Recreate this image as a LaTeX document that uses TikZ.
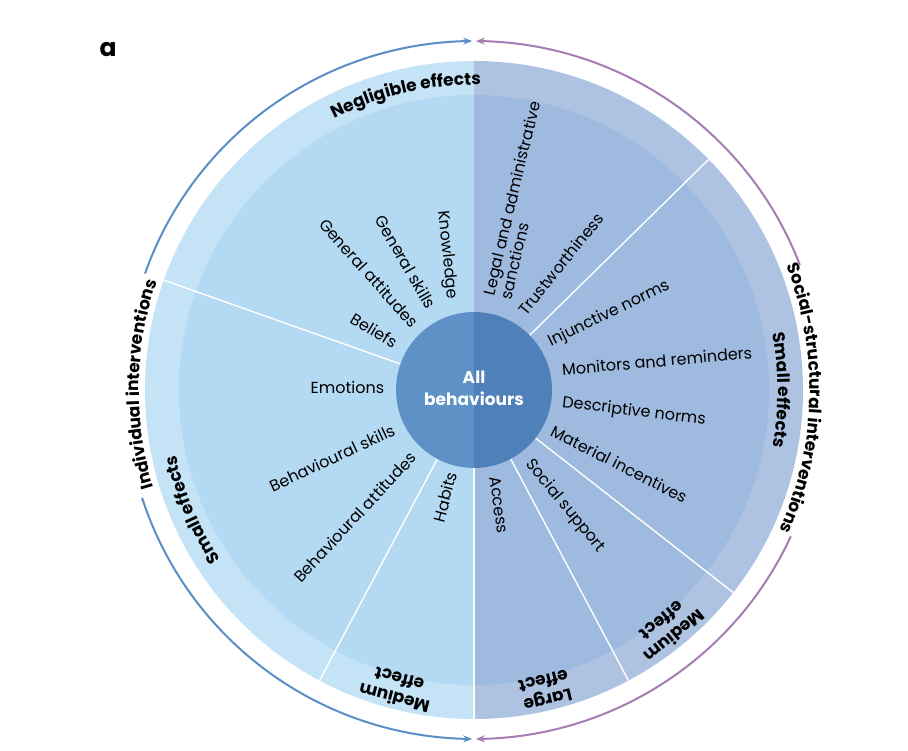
\documentclass[tikz,border=0pt]{standalone}
\usepackage{fontspec}
\setmainfont{Poppins}
\usetikzlibrary{decorations.text, arrows.meta, bending}
\definecolor{lbo}{HTML}{C5E3F6}
\definecolor{lbi}{HTML}{B4D9F2}
\definecolor{rbo}{HTML}{AEC3E2}
\definecolor{rbi}{HTML}{9EBADF}
\definecolor{cl}{HTML}{5E92C7}
\definecolor{cr}{HTML}{5080B9}
\definecolor{arrb}{HTML}{5A8EC5}
\definecolor{arrp}{HTML}{A57CB4}
\newcommand\itemfont{\fontsize{16}{18}\selectfont}
\newcommand\ringfont{\fontsize{17}{20}\selectfont\bfseries}
\tikzset{
  lbl/.style={font=\itemfont, inner sep=0pt},
  effl/.style={font=\fontsize{17}{20}\selectfont\bfseries, align=center, inner sep=0pt},
  sep/.style={white, line width=1.4pt},
  arcarrow/.style={line width=2pt, -{Stealth[length=9pt,width=7pt]}},
  ringtext/.style={decorate, decoration={text along path, text align=center, text={|\ringfont|#1}}}
}
\begin{document}
\begin{tikzpicture}[x=1pt,y=1pt]
\useasboundingbox (0,0) rectangle (908,750);
\node[font=\fontsize{25}{26}\selectfont\bfseries] (lbla) at (108,700) {a};
\begin{scope}[shift={(474,360)}]
  % halves
  \fill[lbo] (0,0) -- (90:329pt) arc[start angle=90, end angle=270, radius=329pt] -- cycle;
  \fill[lbi] (0,0) -- (90:295pt) arc[start angle=90, end angle=270, radius=295pt] -- cycle;
  \fill[rbo] (0,0) -- (-90:329pt) arc[start angle=-90, end angle=90, radius=329pt] -- cycle;
  \fill[rbi] (0,0) -- (-90:295pt) arc[start angle=-90, end angle=90, radius=295pt] -- cycle;
  % separators
  \foreach \a in {44.5,160.5,242,270,298,322} \draw[sep] (\a:70pt) -- (\a:329pt);
  % centre
  \fill[cl] (0,0) -- (90:78pt) arc[start angle=90, end angle=270, radius=78pt] -- cycle;
  \fill[cr] (0,0) -- (-90:78pt) arc[start angle=-90, end angle=90, radius=78pt] -- cycle;
  \node[white, font=\fontsize{17}{22}\selectfont\bfseries, align=center] (all) at (0,2) {All\\behaviours};
  % item labels
  \node[lbl, rotate=-84] (know) at (-27,135) {Knowledge};
  \node[lbl, rotate=-60] (gskill) at (-68,128) {General skills};
  \node[lbl, rotate=-48] (gatt) at (-105,117) {General attitudes};
  \node[lbl, rotate=-31] (bel) at (-100,60) {Beliefs};
  \node[lbl] (emo) at (-126.5,3) {Emotions};
  \node[lbl, rotate=25] (bskill) at (-142,-68) {Behavioural skills};
  \node[lbl, rotate=47] (batt) at (-119,-127) {Behavioural attitudes};
  \node[lbl, rotate=75] (hab) at (-29,-107) {Habits};
  \node[lbl, rotate=76.5, anchor=west, align=left, font=\fontsize{16}{16}\selectfont] (legal) at (23,93) {Legal and administrative\\sanctions};
  \node[lbl, rotate=51] (trust) at (87,126) {Trustworthiness};
  \node[lbl, rotate=26] (inj) at (135,76) {Injunctive norms};
  \node[lbl, rotate=5] (mon) at (183,29) {Monitors and reminders};
  \node[lbl, rotate=-7] (desc) at (160,-22) {Descriptive norms};
  \node[lbl, rotate=-27] (mat) at (145,-74) {Material incentives};
  \node[lbl, rotate=-50.5] (soc) at (91,-116) {Social support};
  \node[lbl, rotate=-82] (acc) at (25,-115) {Access};
  % ring labels
  \path[ringtext={Negligible effects}] (150:305pt) arc[start angle=150, end angle=56, radius=305pt];
  \path[ringtext={Small effects}] (240:305pt) arc[start angle=240, end angle=166, radius=305pt];
  \path[ringtext={Small effects}] (40:304pt) arc[start angle=40, end angle=-40, radius=304pt];
  \node[effl, rotate=165.5] (medl) at (255.5:309pt) {Medium\\effect};
  \node[effl, rotate=193.4] (large) at (283.4:309pt) {Large\\effect};
  \node[effl, rotate=219.2] (medr) at (309.2:308pt) {Medium\\effect};
  % intervention arcs
  \path[ringtext={Individual interventions}] (230:335pt) arc[start angle=230, end angle=128, radius=335pt];
  \path[ringtext={Social-structural interventions}] (40:336pt) arc[start angle=40, end angle=-43, radius=336pt];
  \draw[arrb, arcarrow] (160.5:349pt) arc[start angle=160.5, end angle=90.3, radius=349pt];
  \draw[arrb, arcarrow] (198:349pt) arc[start angle=198, end angle=269.7, radius=349pt];
  \draw[arrp, arcarrow] (21:349pt) arc[start angle=21, end angle=89.7, radius=349pt];
  \draw[arrp, arcarrow] (-24.8:349pt) arc[start angle=-24.8, end angle=-89.7, radius=349pt];
\end{scope}
\end{tikzpicture}
\end{document}
